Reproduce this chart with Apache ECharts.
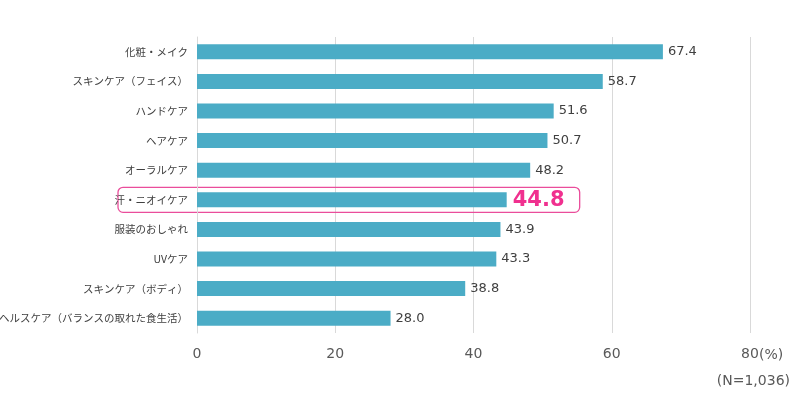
<!DOCTYPE html>
<html><head><meta charset="utf-8">
<script src="https://cdn.jsdelivr.net/npm/echarts@6/dist/echarts.min.js"></script>
<style>html,body{margin:0;padding:0;background:#fff}#c{width:800px;height:409px}</style>
</head><body><div id="c"></div>
<script>
var categories = ['化粧・メイク','スキンケア（フェイス）','ハンドケア','ヘアケア','オーラルケア','汗・ニオイケア','服装のおしゃれ','UVケア','スキンケア（ボディ）','ヘルスケア（バランスの取れた食生活）'];
var values = [67.4, 58.7, 51.6, 50.7, 48.2, 44.8, 43.9, 43.3, 38.8, 28.0];
var highlightName = '汗・ニオイケア';
var xTicks = [0, 20, 40, 60, 80];
var unitLabel = '(%)';
var noteLabel = '(N=1,036)';

var FONT = '"Noto Sans CJK JP", "Noto Sans", sans-serif';
var NUMFONT = '"DejaVu Sans", "Noto Sans", sans-serif';
var chart = echarts.init(document.getElementById('c'));
var data = values.map(function(v, i){
  var d = {value: v};
  if (categories[i] === highlightName) {
    d.label = {fontSize: 21, fontWeight: 'bold', color: '#f0308f', distance: 6, offset:[0,1]};
  }
  return d;
});
chart.setOption({
  animation: false,
  grid: {left: 197, right: 50, top: 37, bottom: 76, containLabel: false, outerBoundsMode: 'none'},
  xAxis: {
    type: 'value', min: 0, max: 80, interval: 20,
    axisLine: {show: false}, axisTick: {show: false},
    splitLine: {lineStyle: {color: '#d9d9d9', width: 1}},
    axisLabel: {color: '#595959', fontSize: 14, fontFamily: NUMFONT, margin: 14,
      formatter: function(v){ return xTicks.indexOf(v) >= 0 ? String(v) : ''; }}
  },
  yAxis: {
    type: 'category', data: categories, inverse: true,
    axisLine: {show: true, lineStyle: {color: '#d9d9d9'}}, axisTick: {show: false},
    axisLabel: {color: '#404040', fontSize: 10.5, fontFamily: FONT, margin: 9}
  },
  series: [{
    type: 'bar', data: data, barWidth: 15,
    itemStyle: {color: '#4bacc6'},
    label: {show: true, position: 'right', distance: 5, color: '#404040', fontSize: 13, fontFamily: NUMFONT,
      formatter: function(p){ return p.value.toFixed(1); }}
  }]
});

var idx = categories.indexOf(highlightName);
var c = chart.convertToPixel({xAxisIndex:0, yAxisIndex:0}, [values[idx], idx]);
var x0 = chart.convertToPixel({xAxisIndex:0}, 0);
var x80 = chart.convertToPixel({xAxisIndex:0}, 80);
var yBottom = chart.convertToPixel({yAxisIndex:0}, categories.length - 1) + 15;
chart.setOption({
  graphic: [
    {type: 'rect', shape: {x: x0 - 79, y: c[1] - 12.5, width: (c[0] + 73) - (x0 - 79), height: 25, r: 5},
     style: {fill: 'none', stroke: '#ea4d9b', lineWidth: 1.3}},
    {type: 'text', style: {text: unitLabel, x: x80 + 9, y: yBottom + 22, fill: '#595959', font: '14px ' + NUMFONT, textVerticalAlign: 'middle'}},
    {type: 'text', style: {text: noteLabel, x: 790, y: yBottom + 48, fill: '#595959', font: '14px ' + NUMFONT, textAlign: 'right', textVerticalAlign: 'middle'}}
  ]
});
</script></body></html>
